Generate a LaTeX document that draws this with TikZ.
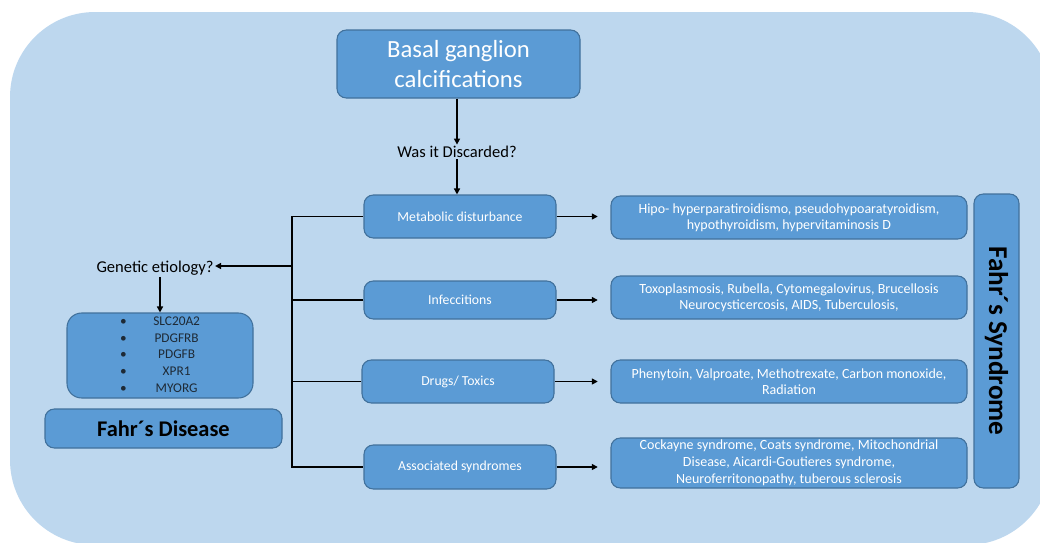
\documentclass[tikz,border=0pt]{standalone}
\usepackage{fontspec}
\setmainfont{Carlito}
\usetikzlibrary{arrows.meta}
\definecolor{bg}{HTML}{BDD7EE}
\definecolor{boxfill}{HTML}{5B9BD5}
\definecolor{boxline}{HTML}{41719C}
\definecolor{genetxt}{HTML}{1E2A36}
\begin{document}
\begin{tikzpicture}[x=0.75pt,y=-0.75pt,
  box/.style={draw=boxline, fill=boxfill, line width=0.8pt, rounded corners=7pt,
    align=center, text=white, inner sep=2pt},
  midbox/.style={box, minimum width=144pt, font=\fontsize{10.3}{12}\selectfont},
  resbox/.style={box, minimum width=267pt, font=\fontsize{10.5}{12}\selectfont},
  plain/.style={align=center, text=black, inner sep=1pt},
  arr/.style={-{Triangle[length=4.5pt,width=4.5pt]}, line width=1.1pt},
  conn/.style={line width=1.1pt}]
\useasboundingbox (0,0) rectangle (1040,543);
\begin{scope}
  \clip (0,0) rectangle (1040,543);
  \fill[bg, rounded corners=63.75pt] (10,12) rectangle (1052,545);
\end{scope}

% top
\node[box, minimum width=182.25pt, minimum height=51pt,
  font=\fontsize{18.5}{22.5}\selectfont] (basal) at (458.5,64) {Basal ganglion\\calcifications};
\node[plain, font=\fontsize{12.4}{14}\selectfont] (was) at (457,152) {Was it Discarded?};

% middle boxes
\node[midbox, minimum height=32.25pt] (metab) at (460,216.5) {Metabolic disturbance};
\node[midbox, minimum height=28.5pt] (infec) at (460,300) {Infeccitions};
\node[midbox, minimum height=32.25pt] (drugs) at (458,381.5) {Drugs/ Toxics};
\node[midbox, minimum height=33pt] (assoc) at (460,467) {Associated syndromes};

% result boxes
\node[resbox, minimum height=32.25pt] (rmetab) at (789,217.5)
  {Hipo- hyperparatiroidismo, pseudohypoaratyroidism,\\hypothyroidism, hypervitaminosis D};
\node[resbox, minimum height=32.25pt] (rinfec) at (789,297.5)
  {Toxoplasmosis, Rubella, Cytomegalovirus, Brucellosis\\Neurocysticercosis, AIDS, Tuberculosis,};
\node[resbox, minimum height=32.25pt] (rdrugs) at (789,381.5)
  {Phenytoin, Valproate, Methotrexate, Carbon monoxide,\\Radiation};
\node[resbox, minimum height=37.5pt, inner ysep=0pt, font=\fontsize{10.5}{12.6}\selectfont] (rassoc) at (789,463)
  {Cockayne syndrome, Coats syndrome, Mitochondrial\\Disease, Aicardi-Goutieres syndrome,\\Neuroferritonopathy, tuberous sclerosis};

% Fahr's syndrome
\node[box, minimum width=220.5pt, minimum height=33.75pt, rotate=-90, text=black,
  font=\bfseries\fontsize{20.4}{24}\selectfont] (synd) at (996.5,341) {Fahr´s Syndrome};

% left side
\coordinate (trunk) at (292,266);
\node[plain, font=\fontsize{12.4}{14}\selectfont] (gen) at (155,268) {Genetic etiology?};
\node[box, minimum width=139.5pt, minimum height=63.75pt, rounded corners=11pt, text=genetxt,
  inner ysep=0pt, font=\fontsize{10}{12.5}\selectfont] (genes) at (160,355.5)
  {\begin{tabular}{@{}c@{\hspace{20pt}}c@{}}
   \textbullet & SLC20A2\\
   \textbullet & PDGFRB\\
   \textbullet & PDGFB\\
   \textbullet & XPR1\\
   \textbullet & MYORG
   \end{tabular}};
\node[box, minimum width=177.75pt, minimum height=29.25pt, text=black,
  font=\bfseries\fontsize{16.8}{20}\selectfont] (disease) at (163.5,428.5) {Fahr´s Disease};

% connectors
\draw[arr] (basal.south -| was) -- (was.north);
\draw[arr] (was.south) -- (was.south |- metab.north);
\foreach \a/\b in {metab/rmetab, infec/rinfec, drugs/rdrugs, assoc/rassoc}
  \draw[arr, shorten >=9.5pt] (\a.east) -- (\b.west |- \a.east);
\draw[conn] (metab.west) -- (metab.west -| trunk) -- (assoc.west -| trunk) -- (assoc.west);
\draw[conn] (infec.west) -- (infec.west -| trunk);
\draw[conn] (drugs.west) -- (drugs.west -| trunk);
\draw[arr] (trunk) -- (gen.east |- trunk);
\draw[arr] (gen.south -| genes.north) -- (genes.north);
\end{tikzpicture}
\end{document}
